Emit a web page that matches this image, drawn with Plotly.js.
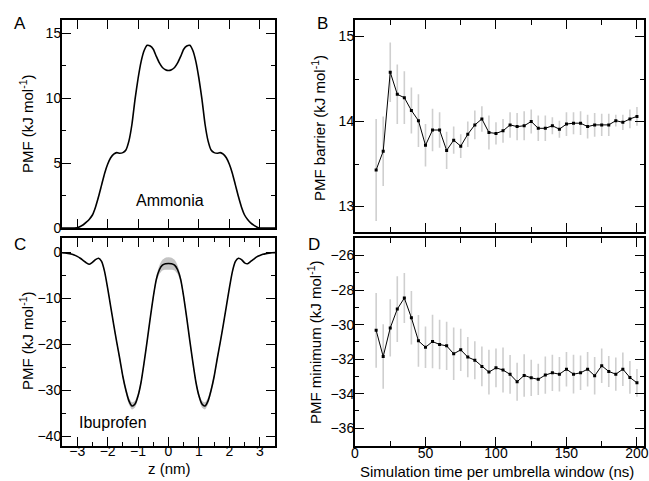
<!DOCTYPE html>
<html>
<head>
<meta charset="utf-8">
<script src="https://cdn.plot.ly/plotly-3.0.1.min.js"></script>
<style>html,body{margin:0;padding:0;background:#fff;}#plot{width:649px;height:481px;}</style>
</head>
<body>
<div id="plot"></div>
<script>
// ---- Data: PMF profiles (panels A and C) ----
const zNm = [-3.5,-3.4,-3.3,-3.2,-3.1,-3.0,-2.9,-2.8,-2.7,-2.6,-2.5,-2.4,-2.3,-2.2,-2.1,-2.0,-1.9,-1.8,-1.7,-1.6,-1.5,-1.4,-1.3,-1.2,-1.1,-1.0,-0.9,-0.8,-0.7,-0.6,-0.5,-0.4,-0.3,-0.2,-0.1,
  0.0,
  0.1,0.2,0.3,0.4,0.5,0.6,0.7,0.8,0.9,1.0,1.1,1.2,1.3,1.4,1.5,1.6,1.7,1.8,1.9,2.0,2.1,2.2,2.3,2.4,2.5,2.6,2.7,2.8,2.9,3.0,3.1,3.2,3.3,3.4,3.5];

const ammoniaPMF = [0,0,0,0,0,0.02,0.12,0.25,0.45,0.68,1.0,1.6,2.4,3.3,4.2,4.9,5.4,5.68,5.8,5.75,5.8,6.0,6.7,8.0,9.9,11.5,12.8,13.65,14.05,14.0,13.75,13.2,12.7,12.35,12.18,
  12.12,
  12.18,12.35,12.7,13.2,13.75,14.0,14.05,13.65,12.8,11.5,9.9,8.0,6.7,6.0,5.8,5.75,5.8,5.68,5.4,4.9,4.2,3.3,2.4,1.6,1.0,0.65,0.4,0.22,0.08,0.0,0,0,0,0,0];

const ibuprofenPMF = [-0.1,-0.15,-0.25,-0.4,-0.6,-0.9,-1.3,-1.8,-2.3,-2.6,-2.2,-1.6,-1.3,-2.0,-4.2,-7.8,-11.8,-15.8,-19.6,-23.2,-27.0,-30.0,-32.3,-33.4,-33.0,-31.2,-28.2,-23.9,-19.2,-14.3,-9.7,-5.9,-3.8,-2.8,-2.5,
  -2.45,
  -2.5,-2.8,-3.8,-5.9,-9.7,-14.3,-19.2,-23.9,-28.2,-31.2,-33.0,-33.4,-32.3,-30.0,-27.0,-23.2,-19.6,-15.8,-11.8,-7.8,-4.2,-2.0,-1.3,-1.6,-2.3,-2.5,-2.0,-1.5,-1.0,-0.7,-0.45,-0.3,-0.2,-0.12,-0.08];

const ibuprofenErr = [0.05,0.05,0.05,0.05,0.05,0.05,0.05,0.05,0.05,0.05,0.1,0.1,0.1,0.15,0.2,0.25,0.3,0.35,0.4,0.45,0.55,0.65,0.75,0.8,0.75,0.6,0.5,0.45,0.45,0.5,0.6,0.75,0.95,1.15,1.3,
  1.35,
  1.3,1.15,0.95,0.75,0.6,0.5,0.45,0.45,0.5,0.6,0.75,0.8,0.75,0.65,0.55,0.45,0.4,0.35,0.3,0.25,0.2,0.15,0.1,0.1,0.1,0.05,0.05,0.05,0.05,0.05,0.05,0.05,0.05,0.05,0.05];

// ---- Data: convergence vs simulation time (panels B and D) ----
const simTime = [15,20,25,30,35,40,45,50,55,60,65,70,75,80,85,90,95,100,105,110,115,120,125,130,135,140,145,150,155,160,165,170,175,180,185,190,195,200];

const barrier = [13.43,13.65,14.58,14.32,14.28,14.13,14.01,13.72,13.90,13.90,13.66,13.78,13.71,13.85,13.96,14.03,13.87,
  13.86,13.89,13.96,13.94,13.95,14.00,13.92,13.92,13.95,13.91,13.97,13.98,13.98,13.94,13.96,13.96,13.96,14.01,13.99,14.03,14.06];
const barrierErr = [0.60,0.41,0.35,0.35,0.31,0.27,0.31,0.25,0.25,0.21,0.22,0.16,0.14,0.15,0.17,0.15,0.20,
  0.13,0.14,0.15,0.16,0.17,0.14,0.15,0.15,0.10,0.10,0.14,0.13,0.14,0.14,0.14,0.13,0.13,0.07,0.09,0.11,0.11];

const minimum = [-30.33,-31.85,-30.19,-29.10,-28.46,-29.60,-30.94,-31.31,-30.98,-31.15,-31.23,-31.69,-31.46,-31.88,-32.06,-32.42,-32.75,
  -32.50,-32.63,-32.88,-33.31,-32.94,-33.08,-33.17,-32.92,-32.79,-32.87,-32.58,-32.87,-32.79,-32.58,-32.96,-32.38,-32.71,-32.87,-32.58,-33.06,-33.37];
const minimumErr = [2.16,1.87,1.66,1.90,1.45,1.55,1.50,1.20,1.55,1.44,1.40,1.52,1.22,1.17,1.10,1.15,1.30,
  1.12,1.30,1.12,1.10,1.23,1.05,0.91,1.08,1.05,1.00,1.00,1.12,1.00,1.00,1.08,1.00,0.90,0.96,0.97,0.95,0.80];

// ---- Figure ----
const W = 649, H = 481;
const FONT = 'Liberation Sans, Arial, Helvetica, sans-serif';
const px = v => v / W;
const py = v => 1 - v / H;

const ibuUpper = ibuprofenPMF.map((v, i) => v + ibuprofenErr[i]);
const ibuLower = ibuprofenPMF.map((v, i) => v - ibuprofenErr[i]);

const traces = [
  {x: zNm, y: ammoniaPMF, xaxis: 'x', yaxis: 'y', mode: 'lines',
   line: {color: 'black', width: 1.6, shape: 'spline', smoothing: 0.6}, hoverinfo: 'skip'},
  {x: zNm, y: ibuLower, xaxis: 'x3', yaxis: 'y3', mode: 'lines',
   line: {color: 'rgba(0,0,0,0)', width: 0, shape: 'spline', smoothing: 0.6}, hoverinfo: 'skip'},
  {x: zNm, y: ibuUpper, xaxis: 'x3', yaxis: 'y3', mode: 'lines', fill: 'tonexty', fillcolor: '#c4c4c4',
   line: {color: 'rgba(0,0,0,0)', width: 0, shape: 'spline', smoothing: 0.6}, hoverinfo: 'skip'},
  {x: zNm, y: ibuprofenPMF, xaxis: 'x3', yaxis: 'y3', mode: 'lines',
   line: {color: 'black', width: 1.6, shape: 'spline', smoothing: 0.6}, hoverinfo: 'skip'},
  // error bars first (under the line)
  {x: simTime, y: barrier, xaxis: 'x2', yaxis: 'y2', mode: 'markers', marker: {size: 0.1, color: 'rgba(0,0,0,0)'},
   error_y: {type: 'data', array: barrierErr, color: '#cfcfcf', thickness: 1.6, width: 0}, hoverinfo: 'skip'},
  {x: simTime, y: barrier, xaxis: 'x2', yaxis: 'y2', mode: 'lines+markers',
   line: {color: 'black', width: 1}, marker: {symbol: 'square', size: 3, color: 'black'}, hoverinfo: 'skip'},
  {x: simTime, y: minimum, xaxis: 'x4', yaxis: 'y4', mode: 'markers', marker: {size: 0.1, color: 'rgba(0,0,0,0)'},
   error_y: {type: 'data', array: minimumErr, color: '#cfcfcf', thickness: 1.6, width: 0}, hoverinfo: 'skip'},
  {x: simTime, y: minimum, xaxis: 'x4', yaxis: 'y4', mode: 'lines+markers',
   line: {color: 'black', width: 1}, marker: {symbol: 'square', size: 3, color: 'black'}, hoverinfo: 'skip'}
];

function ax(extra) {
  return Object.assign({
    showline: true, linewidth: 2, linecolor: 'black', mirror: 'allticks',
    ticks: 'inside', ticklen: 9, tickwidth: 1, tickcolor: 'black',
    showgrid: false, zeroline: false, fixedrange: true,
    tickfont: {family: FONT, size: 14, color: 'black'}
  }, extra);
}
function minor(d, len) {
  return {dtick: d, ticks: 'inside', ticklen: len || 4, tickwidth: 1, tickcolor: 'black', showgrid: false};
}

const xA = [px(62), px(275)];
const xB = [px(355), px(644)];

const layout = {
  width: W, height: H,
  margin: {l: 0, r: 0, t: 0, b: 0},
  paper_bgcolor: 'white', plot_bgcolor: 'white',
  showlegend: false,
  font: {family: FONT, size: 14, color: 'black'},
  xaxis: ax({domain: xA, range: [-3.5, 3.5], dtick: 1, showticklabels: false, anchor: 'y'}),
  yaxis: ax({domain: [py(228), py(20)], range: [0, 16], dtick: 5, minor: minor(2.5), anchor: 'x', ticklabelstandoff: -4}),
  xaxis2: ax({domain: xB, range: [0, 205], dtick: 50, minor: minor(25, 5), showticklabels: false, anchor: 'y2'}),
  yaxis2: ax({domain: [py(232), py(19.5)], range: [12.7, 15.2], dtick: 1, minor: minor(0.5), anchor: 'x2', ticklabelstandoff: -4}),
  xaxis3: ax({domain: xA, range: [-3.5, 3.5], dtick: 1, minor: minor(0.5), anchor: 'y3', ticklabelstandoff: -8}),
  yaxis3: ax({domain: [py(445.5), py(238)], range: [-42, 3.1], dtick: 10, minor: minor(5), anchor: 'x3', ticklabelstandoff: -4}),
  xaxis4: ax({domain: xB, range: [0, 205], dtick: 50, minor: minor(25, 5), anchor: 'y4', ticklabelstandoff: -6}),
  yaxis4: ax({domain: [py(445.5), py(238.3)], range: [-37, -25], dtick: 2, minor: minor(1), anchor: 'x4', ticklabelstandoff: -4}),
  annotations: [
    {text: 'A', x: px(20), y: py(23)},
    {text: 'B', x: px(322), y: py(23)},
    {text: 'C', x: px(20), y: py(244)},
    {text: 'D', x: px(314), y: py(244)}
  ].map(a => Object.assign({xref: 'paper', yref: 'paper', xanchor: 'center', yanchor: 'middle', showarrow: false,
      font: {family: FONT, size: 17, color: 'black'}}, a)).concat([
    {text: 'Ammonia', x: px(170), y: py(200)},
    {text: 'Ibuprofen', x: px(113), y: py(422)}
  ].map(a => Object.assign({xref: 'paper', yref: 'paper', xanchor: 'center', yanchor: 'middle', showarrow: false,
      font: {family: FONT, size: 16, color: 'black'}}, a))).concat([
    {text: 'PMF (kJ mol<sup>-1</sup>)', x: px(26), y: py(124), textangle: -90},
    {text: 'PMF (kJ mol<sup>-1</sup>)', x: px(26), y: py(341), textangle: -90},
    {text: 'PMF barrier (kJ mol<sup>-1</sup>)', x: px(318), y: py(128), textangle: -90},
    {text: 'PMF minimum (kJ mol<sup>-1</sup>)', x: px(314), y: py(342), textangle: -90},
    {text: 'z (nm)', x: px(169), y: py(468)},
    {text: 'Simulation time per umbrella window (ns)', x: px(497), y: py(471)}
  ].map(a => Object.assign({xref: 'paper', yref: 'paper', xanchor: 'center', yanchor: 'middle', showarrow: false,
      font: {family: FONT, size: 15, color: 'black'}}, a)))
};

Plotly.newPlot('plot', traces, layout, {staticPlot: true, displayModeBar: false});
</script>
</body>
</html>
